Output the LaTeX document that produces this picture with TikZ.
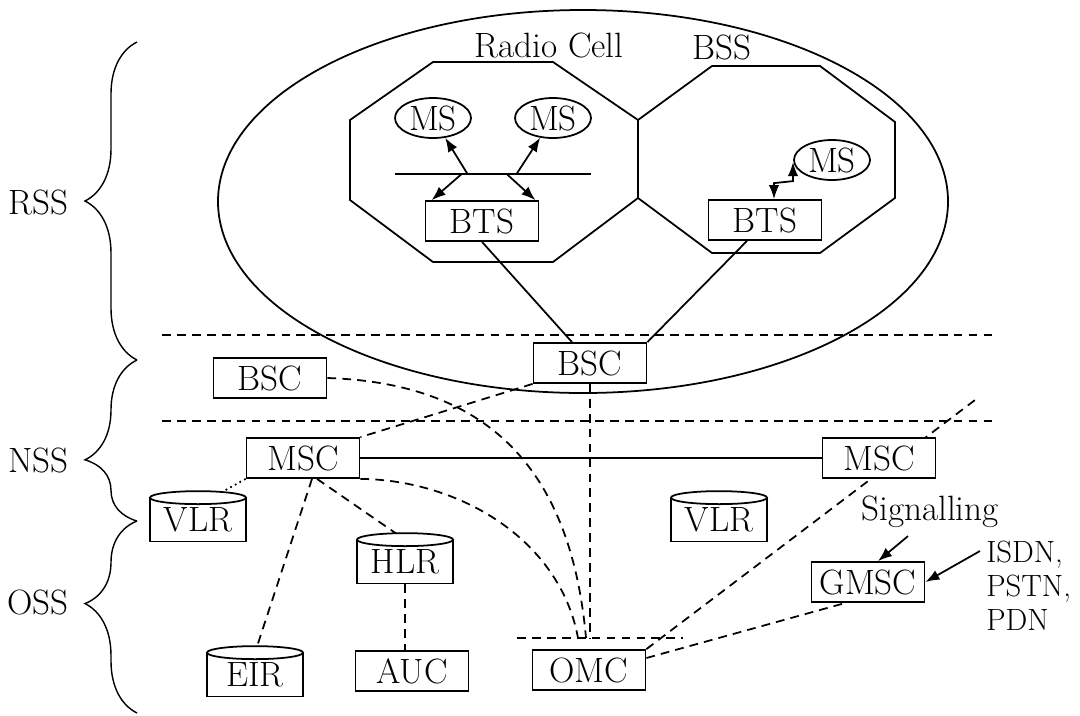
\documentclass[tikz,border=0pt]{standalone}
\usepackage{fontspec}
\usetikzlibrary{arrows.meta,calc,shapes.geometric,decorations.pathreplacing}
\pgfdeclarelayer{bg}
\pgfsetlayers{bg,main}
\tikzset{
  every node/.style={font=\fontsize{20}{20}\selectfont},
  unit/.style={draw,fill=white,line width=1pt,minimum width=2.26cm,minimum height=0.8cm,inner sep=0pt},
  mobile/.style={draw,ellipse,fill=white,line width=1pt,minimum width=1.52cm,minimum height=0.8cm,inner sep=0pt},
  store/.style={draw,fill=white,line width=1pt,minimum width=1.92cm,minimum height=0.86cm,inner sep=0pt},
  link/.style={line width=1pt},
  dlink/.style={line width=1pt,dash pattern=on 5pt off 3.5pt},
  dotlink/.style={line width=1pt,dash pattern=on 1pt off 2pt},
  sysbrace/.style={line width=0.8pt,decorate,decoration={brace,amplitude=1.04cm,aspect=#1}},
  >={Latex[length=8pt,width=6pt]}
}
\newcommand{\storenode}[3]{%
  \node[store] (#1) at (#2) {#3};
  \draw[link,fill=white] (#1.north) ellipse [x radius=0.96cm,y radius=0.13cm];
}
\begin{document}
\begin{tikzpicture}[x=0.2mm,y=-0.2mm]
  \useasboundingbox (0,0) rectangle (1080,715);
  % subsystems
  \draw[sysbrace=0.5] (137,360) -- (137,42);
  \draw[sysbrace=0.38] (137,521) -- (137,360);
  \draw[sysbrace=0.57] (137,713) -- (137,521);
  \node[anchor=east] (rss) at (75,202) {RSS};
  \node[anchor=east] (nss) at (75,460) {NSS};
  \node[anchor=east] (oss) at (75,602) {OSS};
  \node (cellname) at (549,45) {Radio Cell};
  \node (bssname) at (722,47) {BSS};
  % units
  \node[mobile] (ms1) at (433,118) {MS};
  \node[mobile] (ms2) at (553,118) {MS};
  \node[mobile] (ms3) at (832,160) {MS};
  \node[unit] (btsA) at (482,221) {BTS};
  \node[unit] (btsB) at (765,220) {BTS};
  \node[unit] (bscR) at (590,363) {BSC};
  \node[unit] (bscL) at (270,378) {BSC};
  \node[unit] (mscL) at (303,458) {MSC};
  \node[unit] (mscR) at (879,458) {MSC};
  \node[unit] (gmsc) at (868,582) {GMSC};
  \node[unit] (auc) at (412,671) {AUC};
  \node[unit] (omc) at (589,670) {OMC};
  \storenode{vlrA}{198,520}{VLR}
  \storenode{vlrB}{719,520}{VLR}
  \storenode{hlr}{405,562}{HLR}
  \storenode{eir}{255,675}{EIR}
  \node (sig) at (930,512) {Signalling};
  \node[anchor=west,align=left,inner sep=0pt,font=\fontsize{17.5}{19.3}\selectfont] (net) at (986,586) {ISDN,\\PSTN,\\PDN};
  \coordinate (airL) at (395,174);
  \coordinate (airR) at (591,174);
  \coordinate (busL) at (517,638);
  \coordinate (busR) at (683,638);
  \coordinate (tapA) at (578,638);
  \coordinate (tapB) at (586,638);
  \coordinate (sigEnd) at (975,400);
  \begin{pgfonlayer}{bg}
    \draw[link] (583,201.5) ellipse [x radius=7.3cm,y radius=3.83cm];
    \draw[link] (433,62) -- (553,62) -- (638,120) -- (638,198) -- (553,262)
      -- (433,262) -- (350,200) -- (350,120) -- cycle;
    \draw[link] (712,66) -- (820,66) -- (895,122) -- (895,198) -- (820,253)
      -- (712,253) -- (638,198) -- (638,120) -- cycle;
    \draw[dlink] (162,335) -- (992,335);
    \draw[dlink] (162,421) -- (992,421);
    \draw[link] (airL) -- (airR);
    \draw[link,->] ($(airL)!0.37!(airR)$) -- (ms1);
    \draw[link,->] ($(airL)!0.62!(airR)$) -- (ms2);
    \draw[link,->] ($(airL)!0.34!(airR)$) -- ($(btsA.north west)+(7,0)$);
    \draw[link,->] ($(airL)!0.57!(airR)$) -- ($(btsA.north east)+(-4,0)$);
    \draw[link,<->] ($(btsB.north)+(9,0)$) -- ++(0,-16) -- ++(19,-2) -- ++(0,-19);
    \draw[link] (btsA.south) -- ($(bscR.north)+(-18,0)$);
    \draw[link] ($(btsB.south)+(-18,0)$) -- (bscR.north east);
    \draw[link] (mscL) -- (mscR);
    \draw[dlink] (bscR.south west) -- (mscL.north east);
    \draw[dotlink] (mscL.south west) -- ($(vlrA.north)+(14,0)$);
    \draw[dlink] ($(mscL.south)+(9,0)$) -- (eir.north);
    \draw[dlink] ($(mscL.south)+(14,0)$) -- (hlr.north);
    \draw[dlink] (hlr.south) -- (hlr.south |- auc.north);
    \draw[dlink] (busL) -- (busR);
    \draw[dlink] (bscR.south) -- (bscR.south |- busL);
    \draw[dlink] (bscL.east) .. controls (480,383) and (570,460) .. (tapB);
    \draw[dlink] (mscL.south east) .. controls (460,480) and (560,540) .. (tapA);
    \draw[dlink] (omc.north east) -- (sigEnd);
    \draw[dlink] ($(omc.east)+(0,-12)$) -- ($(gmsc.south west)+(35,0)$);
  \end{pgfonlayer}
  \draw[link,->] ($(sig.south)+(-22,2)$) -- ($(gmsc.north)+(10,0)$);
  \draw[link,->] ($(net.north west)+(-6,10)$) -- (gmsc.east);
\end{tikzpicture}
\end{document}
